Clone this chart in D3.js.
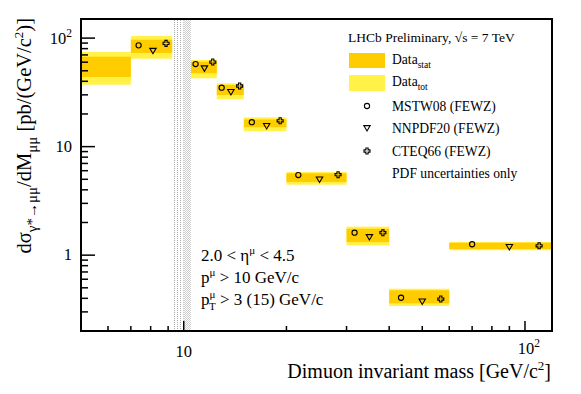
<!DOCTYPE html>
<html><head><meta charset="utf-8">
<script src="https://cdn.jsdelivr.net/npm/d3@7"></script>
<style>body{margin:0;background:#fff}svg{display:block}text{font-family:"Liberation Serif","DejaVu Serif",serif;fill:#000}</style>
</head><body><svg id="c" width="581" height="394"></svg>
<script>
const binLo = [5, 7, 10.5, 12.5, 15, 20, 30, 40, 60];
const binHi = [7, 9.25, 12.5, 15, 20, 30, 40, 60, 120];
const statLo = [43.8, 72.9, 47.4, 29.9, 15.1, 4.72, 1.32, 0.360, 1.14];
const statHi = [67.4, 96.7, 60.6, 37.0, 17.8, 5.67, 1.75, 0.474, 1.30];
const totLo = [37.2, 64.6, 42.6, 27.3, 13.9, 4.46, 1.23, 0.340, 1.11];
const totHi = [74.5, 104.5, 62.8, 38.3, 18.6, 5.83, 1.83, 0.490, 1.32];
const mstw = [null, 85.8, 57.7, 34.9, 16.8, 5.47, 1.61, 0.405, 1.26];
const nnpdf = [null, 76.5, 52.7, 31.9, 15.5, 4.99, 1.47, 0.375, 1.19];
const cteq = [null, 89.5, 60.2, 36.2, 17.3, 5.51, 1.61, 0.394, 1.22];
const vetoLo = [9.25, 10.0];
const vetoHi = [10.0, 10.5];
const xTicks = [10, 100];
const yTicks = [1, 10, 100];

const svg = d3.select("#c");
const L = 81, R = 552, T = 19, B = 331;
const x = d3.scaleLog().domain([5, 120]).range([L, R]);
const y = d3.scaleLog().domain([0.2, 150]).range([B, T]);

const defs = svg.append("defs");
const p1 = defs.append("pattern").attr("id","stripe").attr("patternUnits","userSpaceOnUse").attr("width",3).attr("height",2);
p1.append("rect").attr("width",3).attr("height",2).attr("fill","#fff");
p1.append("rect").attr("width",1).attr("height",1).attr("fill","#aaa");
const p2 = defs.append("pattern").attr("id","check").attr("patternUnits","userSpaceOnUse").attr("width",2).attr("height",2);
p2.append("rect").attr("width",2).attr("height",2).attr("fill","#fff");
p2.append("rect").attr("width",1).attr("height",1).attr("fill","#ccc");
p2.append("rect").attr("x",1).attr("y",1).attr("width",1).attr("height",1).attr("fill","#ccc");
const p3 = defs.append("pattern").attr("id","tot").attr("patternUnits","userSpaceOnUse").attr("width",2).attr("height",2);
p3.append("rect").attr("width",2).attr("height",2).attr("fill","#ffff22");
p3.append("rect").attr("width",1).attr("height",1).attr("fill","#ffee44");
p3.append("rect").attr("x",1).attr("y",1).attr("width",1).attr("height",1).attr("fill","#ffee44");

vetoLo.forEach((lo,i)=>{
  svg.append("rect").attr("x",x(lo)).attr("y",T).attr("width",x(vetoHi[i])-x(lo)).attr("height",B-T)
    .attr("fill", i===0 ? "url(#stripe)" : "url(#check)");
});

const idx = d3.range(binLo.length);
svg.append("g").selectAll("rect").data(idx).join("rect")
  .attr("x",i=>x(binLo[i])).attr("width",i=>x(binHi[i])-x(binLo[i]))
  .attr("y",i=>y(totHi[i])).attr("height",i=>y(totLo[i])-y(totHi[i]))
  .attr("fill","url(#tot)");
svg.append("g").selectAll("rect").data(idx).join("rect")
  .attr("x",i=>x(binLo[i])).attr("width",i=>x(binHi[i])-x(binLo[i]))
  .attr("y",i=>y(statHi[i])).attr("height",i=>y(statLo[i])-y(statHi[i]))
  .attr("fill","#ffcc00");

const mpos = (i,f)=> x(binLo[i] + (binHi[i]-binLo[i])*f);
function circ(g,cx,cy){ g.append("circle").attr("cx",cx).attr("cy",cy).attr("r",2.6).attr("fill","none").attr("stroke","#000").attr("stroke-width",1.1); }
function tri(g,cx,cy){ const s=3.2; g.append("path").attr("d",`M${cx-s},${cy-s*0.75}L${cx+s},${cy-s*0.75}L${cx},${cy+s*0.95}Z`).attr("fill","none").attr("stroke","#000").attr("stroke-width",1.1); }
function cross(g,cx,cy){ const a=3,b=1.1; g.append("path").attr("d",`M${cx-b},${cy-a}H${cx+b}V${cy-b}H${cx+a}V${cy+b}H${cx+b}V${cy+a}H${cx-b}V${cy+b}H${cx-a}V${cy-b}H${cx-b}Z`).attr("fill","none").attr("stroke","#000").attr("stroke-width",1.1); }
const gm = svg.append("g");
idx.forEach(i=>{
  if (mstw[i]!=null) circ(gm, mpos(i,1/6), y(mstw[i]));
  if (nnpdf[i]!=null) tri(gm, mpos(i,1/2), y(nnpdf[i]));
  if (cteq[i]!=null) cross(gm, mpos(i,5/6), y(cteq[i]));
});

svg.append("rect").attr("x",L).attr("y",T).attr("width",R-L).attr("height",B-T).attr("fill","none").attr("stroke","#000").attr("stroke-width",2);

const xAll = [];
for (let d of [1,10,100]) for (let k=1;k<10;k++){ const v=d*k; if (v>5 && v<120) xAll.push(v); }
const ax = svg.append("g");
xAll.forEach(v=>{
  const major = xTicks.includes(v);
  ax.append("line").attr("x1",x(v)).attr("x2",x(v)).attr("y1",B).attr("y2",B-(major?10:5)).attr("stroke","#000").attr("stroke-width",1.5);
});
const yAll = [];
for (let d of [0.1,1,10,100]) for (let k=1;k<10;k++){ const v=+(d*k).toPrecision(3); if (v>0.2 && v<150) yAll.push(v); }
yAll.forEach(v=>{
  const major = yTicks.includes(v);
  ax.append("line").attr("y1",y(v)).attr("y2",y(v)).attr("x1",L).attr("x2",L+(major?14:7)).attr("stroke","#000").attr("stroke-width",1.5);
});

function pow10Label(g, v, xx, yy, anchor){
  const t = g.append("text").attr("x",xx).attr("y",yy).attr("text-anchor",anchor).style("font-size","16.5px");
  if (v===100){ t.append("tspan").text("10"); t.append("tspan").attr("dy",-7).style("font-size","11.5px").text("2"); }
  else t.text(String(v));
  return t;
}
xTicks.forEach(v=> pow10Label(ax, v, x(v)+(v===100?4:0), v===100?354:357, "middle"));
yTicks.forEach(v=> pow10Label(ax, v, 72, y(v)+(v===100?6:5), "end"));

const xt = svg.append("text").attr("x",551).attr("y",378).attr("text-anchor","end").style("font-size","20px");
xt.append("tspan").text("Dimuon invariant mass [GeV/c");
xt.append("tspan").attr("dy",-8).style("font-size","13px").text("2");
xt.append("tspan").attr("dy",8).text("]");

const yt = svg.append("text").attr("transform","translate(31,18) rotate(-90)").attr("text-anchor","end").style("font-size","20.5px");
yt.append("tspan").text("dσ");
yt.append("tspan").attr("dy",6).style("font-size","15px").text("γ*→μμ");
yt.append("tspan").attr("dy",-6).text("/dM");
yt.append("tspan").attr("dy",6).style("font-size","15px").text("μμ");
yt.append("tspan").attr("dy",-6).text(" [pb/(GeV/c");
yt.append("tspan").attr("dy",-8).style("font-size","13px").text("2");
yt.append("tspan").attr("dy",8).text(")]");

const lg = svg.append("g").style("font-size","13.6px");
const lh = lg.append("text").attr("x",348).attr("y",42).style("font-size","13.5px");
lh.append("tspan").text("LHCb Preliminary, ");
lh.append("tspan").text("√s = 7 TeV");
lg.append("rect").attr("x",349).attr("y",53).attr("width",36).attr("height",15).attr("fill","#ffcc00");
lg.append("rect").attr("x",349).attr("y",75).attr("width",36).attr("height",16).attr("fill","url(#tot)");
const t1 = lg.append("text").attr("x",392).attr("y",64); t1.append("tspan").text("Data"); t1.append("tspan").attr("dy",4).style("font-size","9.5px").text("stat");
const t2 = lg.append("text").attr("x",392).attr("y",86); t2.append("tspan").text("Data"); t2.append("tspan").attr("dy",4).style("font-size","9.5px").text("tot");
circ(lg,367,106); lg.append("text").attr("x",392).attr("y",111).text("MSTW08 (FEWZ)");
tri(lg,367,128); lg.append("text").attr("x",392).attr("y",133).text("NNPDF20 (FEWZ)");
cross(lg,367,151); lg.append("text").attr("x",392).attr("y",155.5).text("CTEQ66 (FEWZ)");
lg.append("text").attr("x",392).attr("y",178).text("PDF uncertainties only");

const cg = svg.append("g").style("font-size","17px");
const c1 = cg.append("text").attr("x",201).attr("y",261);
c1.append("tspan").text("2.0 < η"); c1.append("tspan").attr("dy",-7).style("font-size","11px").text("μ"); c1.append("tspan").attr("dy",7).text(" < 4.5");
const c2 = cg.append("text").attr("x",201).attr("y",283);
c2.append("tspan").text("p"); c2.append("tspan").attr("dy",-7).style("font-size","11px").text("μ"); c2.append("tspan").attr("dy",7).text(" > 10 GeV/c");
const c3 = cg.append("text").attr("x",201).attr("y",305);
c3.append("tspan").text("p");
c3.append("tspan").attr("dy",-7).style("font-size","11px").text("μ");
c3.append("tspan").attr("dx",-6.5).attr("dy",12).style("font-size","11px").text("T");
c3.append("tspan").attr("dy",-5).text(" > 3 (15) GeV/c");
</script></body></html>
